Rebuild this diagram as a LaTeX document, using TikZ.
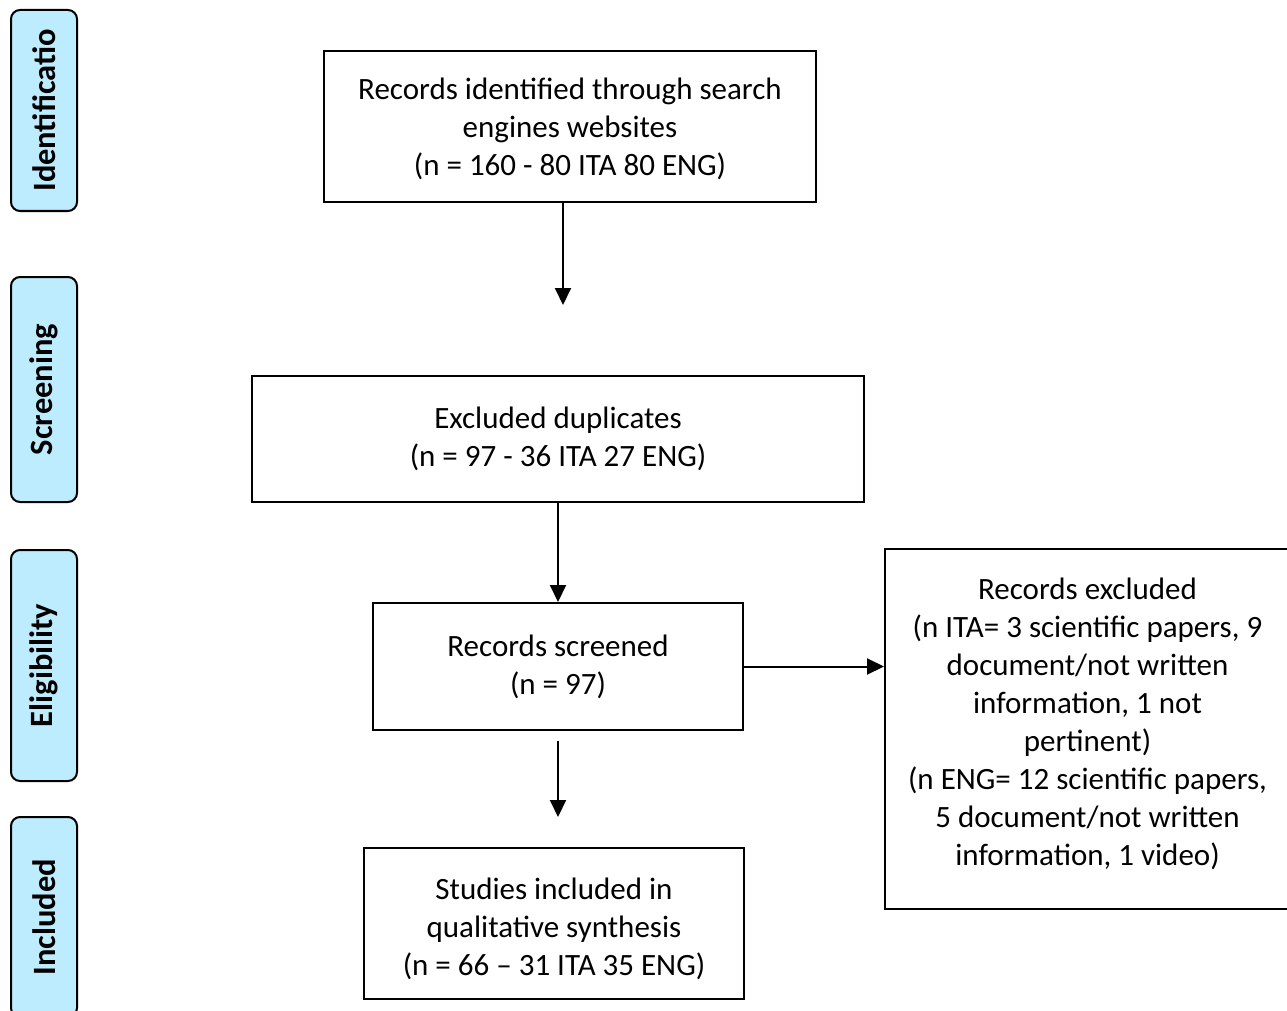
\documentclass[tikz,border=0pt]{standalone}
\usepackage{fontspec}
\setmainfont{Carlito}
\usetikzlibrary{arrows.meta}
\begin{document}
\begin{tikzpicture}[x=1pt,y=-1pt,
  box/.style={draw=black,line width=2pt,align=center,inner sep=0pt,font=\fontsize{31}{38}\selectfont},
  lbl/.style={align=center,inner sep=0pt,font=\fontsize{31}{38}\selectfont},
  phase/.style={draw=black,line width=2pt,fill=phasefill,rounded corners=9pt,rotate=90,inner sep=0pt,minimum height=66pt,font=\fontsize{32.5}{36}\selectfont\bfseries},
  arr/.style={line width=2pt,-{Triangle[length=17pt,width=16pt]}}]
\definecolor{phasefill}{RGB}{190,236,255}
\clip (0,0) rectangle (1287,1011);
\fill[white] (0,0) rectangle (1287,1011);
% phase bars
\node[phase,minimum width=201pt] (p1) at (44,110.5) {Identificatio};
\node[phase,minimum width=225pt] (p2) at (44,389.5) {Screening};
\node[phase,minimum width=231pt] (p3) at (44,665.5) {Eligibility};
\node[phase,minimum width=200pt] (p4) at (44,917) {Included};
% boxes
\node[box,minimum width=492pt,minimum height=151pt,
  label={[lbl,yshift=-2pt]center:{Records identified through search\\engines websites\\(n = 160 - 80 ITA 80 ENG)}}] (b1) at (570,126.5) {};
\node[box,minimum width=612pt,minimum height=126pt] (b2) at (558,439)
  {Excluded duplicates\\(n = 97 - 36 ITA 27 ENG)};
\node[box,minimum width=370pt,minimum height=127pt] (b3) at (558,666.5)
  {Records screened\\(n = 97)};
\node[box,minimum width=405pt,minimum height=360pt,
  label={[lbl,yshift=5pt]center:{Records excluded\\(n ITA= 3 scientific papers, 9\\document/not written\\information, 1 not\\pertinent)\\(n ENG= 12 scientific papers,\\5 document/not written\\information, 1 video)}}] (b4) at (1087.5,729) {};
\node[box,minimum width=380pt,minimum height=151pt,
  label={[lbl,yshift=-5pt]center:{Studies included in\\qualitative synthesis\\(n = 66 -- 31 ITA 35 ENG)}}] (b5) at (554,923.5) {};
% connectors
\coordinate (a1) at (563,305);
\coordinate (a4s) at (558,741);
\coordinate (a4e) at (558,817);
\draw[arr] (b1.south -| a1) -- (a1);
\draw[arr] (b2.south) -- (b3.north);
\draw[arr] (b3.east) -- (b3.east -| b4.west);
\draw[arr] (a4s) -- (a4e);
\end{tikzpicture}
\end{document}
